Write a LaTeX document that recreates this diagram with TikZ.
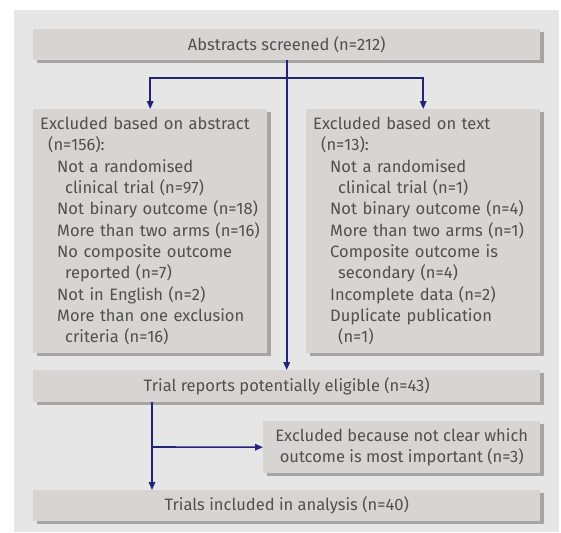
\documentclass[tikz,border=0pt]{standalone}
\usepackage{fontspec}
\setmainfont{Fira Sans}
\usetikzlibrary{arrows.meta,shadows}
\definecolor{panel}{HTML}{E6E6E6}
\definecolor{boxfill}{HTML}{D8D4D1}
\definecolor{boxshadow}{HTML}{A8A4A4}
\definecolor{flowline}{HTML}{23237A}
\definecolor{boxtext}{HTML}{505050}
\begin{document}
\begin{tikzpicture}
  [x=1pt,y=-1pt,every node/.style={fill=boxfill,text=boxtext,anchor=north west,inner xsep=6pt,inner ysep=0pt,
   font=\fontsize{16.5}{21.3}\selectfont,drop shadow={shadow xshift=4pt,shadow yshift=-3pt,fill=boxshadow,opacity=1}}]
  \tikzstyle{wide} = [minimum width=507pt,minimum height=31pt]
  \tikzstyle{list} = [minimum width=234pt,minimum height=244pt,text width=222pt,align=left]
  \tikzstyle{flow} = [draw=flowline,line width=1.6pt,-{Triangle[length=8pt,width=6.5pt]}]
  \useasboundingbox (0,0) rectangle (561,532);
  \fill[panel] (14,10) rectangle (559,532);

  \node[wide] (screen) at (33,29) {Abstracts screened (n=212)};
  \node[list] (abs) at (33,109) {\hspace*{1pt}Excluded based on abstract\\
    \hspace*{9pt}(n=156):\\
    \hspace*{18pt}Not a randomised\\
    \hspace*{26pt}clinical trial (n=97)\\
    \hspace*{18pt}Not binary outcome (n=18)\\
    \hspace*{18pt}More than two arms (n=16)\\
    \hspace*{18pt}No composite outcome\\
    \hspace*{26pt}reported (n=7)\\
    \hspace*{18pt}Not in English (n=2)\\
    \hspace*{18pt}More than one exclusion\\
    \hspace*{26pt}criteria (n=16)};
  \node[list] (txt) at (306,109) {\hspace*{1pt}Excluded based on text\\
    \hspace*{9pt}(n=13):\\
    \hspace*{18pt}Not a randomised\\
    \hspace*{26pt}clinical trial (n=1)\\
    \hspace*{18pt}Not binary outcome (n=4)\\
    \hspace*{18pt}More than two arms (n=1)\\
    \hspace*{18pt}Composite outcome is\\
    \hspace*{26pt}secondary (n=4)\\
    \hspace*{18pt}Incomplete data (n=2)\\
    \hspace*{18pt}Duplicate publication\\
    \hspace*{26pt}(n=1)};
  \node[wide,minimum height=32pt] (elig) at (33,370) {Trial reports potentially eligible (n=43)};
  \node[minimum width=277pt,minimum height=52pt,align=center] (unclear) at (263,421)
    {Excluded because not clear which\\outcome is most important (n=3)};
  \node[wide] (incl) at (33,490) {Trials included in analysis (n=40)};

  \coordinate (split) at (286.5,78);
  \coordinate (down) at (152,402);
  \coordinate (side) at (152,447);

  \draw[flow] (screen.south) -- (elig.north);
\foreach \dest in {abs,txt}
   \draw[flow] (split) -| (\dest.north);
  \draw[flow] (down) -- (down |- incl.north);
  \draw[flow] (side) -- (unclear.west);
\end{tikzpicture}
\end{document}
